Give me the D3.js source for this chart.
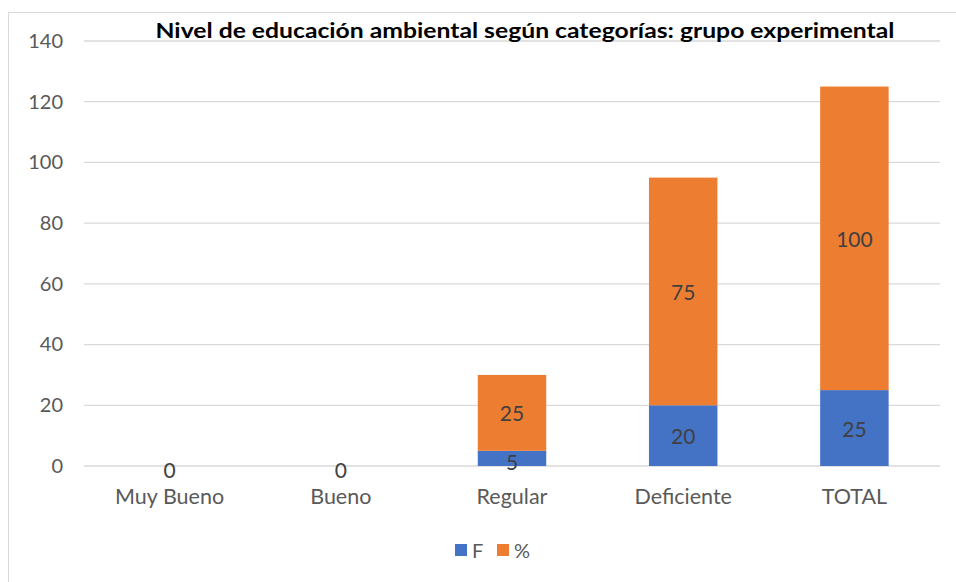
<!DOCTYPE html>
<html>
<head>
<meta charset="utf-8">
<script src="https://cdn.jsdelivr.net/npm/d3@7"></script>
<style>
  body { margin: 0; background: #fff; }
  text { font-family: Lato, "Open Sans", sans-serif; }
</style>
</head>
<body>
<svg id="chart" width="956" height="582"></svg>
<script>
// chart data
var categories = ["Muy Bueno", "Bueno", "Regular", "Deficiente", "TOTAL"];
var seriesF = [0, 0, 5, 20, 25];
var seriesPct = [0, 0, 25, 75, 100];
var seriesNames = ["F", "%"];
var seriesColors = ["#4472C4", "#ED7D31"];
var yTicks = [0, 20, 40, 60, 80, 100, 120, 140];
var title = "Nivel de educación ambiental según categorías: grupo experimental";

var svg = d3.select("#chart");

// outer chart border
svg.append("rect")
    .attr("x", 8.5).attr("y", 12.5)
    .attr("width", 960).attr("height", 600)
    .attr("fill", "none")
    .attr("stroke", "#d9d9d9");

var plotLeft = 84, plotRight = 940, plotTop = 41, plotBottom = 466;

var x = d3.scaleBand()
    .domain(categories)
    .range([plotLeft, plotRight])
    .paddingInner(0.6)
    .paddingOuter(0.3);

var y = d3.scaleLinear()
    .domain([0, 140])
    .range([plotBottom, plotTop]);

// gridlines
svg.append("g")
    .selectAll("line")
    .data(yTicks)
    .enter()
    .append("line")
    .attr("x1", plotLeft).attr("x2", plotRight)
    .attr("y1", function(d) { return y(d); })
    .attr("y2", function(d) { return y(d); })
    .attr("stroke", "#d9d9d9")
    .attr("stroke-width", 1.3);

// y axis labels
var yAxis = svg.append("g")
    .attr("transform", "translate(" + 63 + ",0)")
    .call(d3.axisLeft(y).tickValues(yTicks).tickSize(0).tickPadding(0));
yAxis.select(".domain").remove();
yAxis.selectAll("text")
    .attr("fill", "#595959")
    .style("font-size", "20px")
    .style("font-family", "Lato, sans-serif");

// x axis labels
var xAxis = svg.append("g")
    .attr("transform", "translate(0," + 489 + ")")
    .call(d3.axisBottom(x).tickSize(0).tickPadding(0));
xAxis.select(".domain").remove();
xAxis.selectAll("text")
    .attr("fill", "#595959")
    .style("font-size", "21.5px")
    .style("font-family", "Lato, sans-serif");

// stacked data
var rows = categories.map(function(c, i) {
    return { cat: c, F: seriesF[i], "%": seriesPct[i] };
});
var stacked = d3.stack().keys(seriesNames)(rows);

var layers = svg.append("g")
    .selectAll("g")
    .data(stacked)
    .enter()
    .append("g")
    .attr("fill", function(d, i) { return seriesColors[i]; });

layers.selectAll("rect")
    .data(function(d) { return d; })
    .enter()
    .append("rect")
    .attr("x", function(d) { return x(d.data.cat); })
    .attr("width", x.bandwidth())
    .attr("y", function(d) { return y(d[1]); })
    .attr("height", function(d) { return y(d[0]) - y(d[1]); });

// data labels (zero labels of both series sit on the same spot, draw once)
layers.selectAll("text")
    .data(function(d) {
        var key = d.key;
        return d.filter(function(p) { return key === "%" || p[1] - p[0] > 0; });
    })
    .enter()
    .append("text")
    .attr("x", function(d) { return x(d.data.cat) + x.bandwidth() / 2; })
    .attr("y", function(d) { return (y(d[0]) + y(d[1])) / 2; })
    .attr("text-anchor", "middle")
    .attr("dominant-baseline", "central")
    .attr("dy", function(d) { return d[1] - d[0] < 8 ? 3 : 0; })
    .attr("fill", "#404040")
    .style("font-size", "21px")
    .text(function(d) { return d[1] - d[0]; });

// title
svg.append("text")
    .attr("x", 525)
    .attr("y", 38)
    .attr("text-anchor", "middle")
    .attr("fill", "#000")
    .style("font-size", "21px")
    .style("font-weight", "bold")
    .attr("textLength", 739)
    .attr("lengthAdjust", "spacingAndGlyphs")
    .text(title);

// legend
var legend = svg.append("g")
    .selectAll("g")
    .data(seriesNames)
    .enter()
    .append("g")
    .attr("transform", function(d, i) { return "translate(" + (455 + i * 42) + ",544)"; });

legend.append("rect")
    .attr("width", 12).attr("height", 12)
    .attr("fill", function(d, i) { return seriesColors[i]; });

legend.append("text")
    .attr("x", 17)
    .attr("y", 6)
    .attr("dominant-baseline", "central")
    .attr("fill", "#595959")
    .style("font-size", "20px")
    .text(function(d) { return d; });
</script>
</body>
</html>
